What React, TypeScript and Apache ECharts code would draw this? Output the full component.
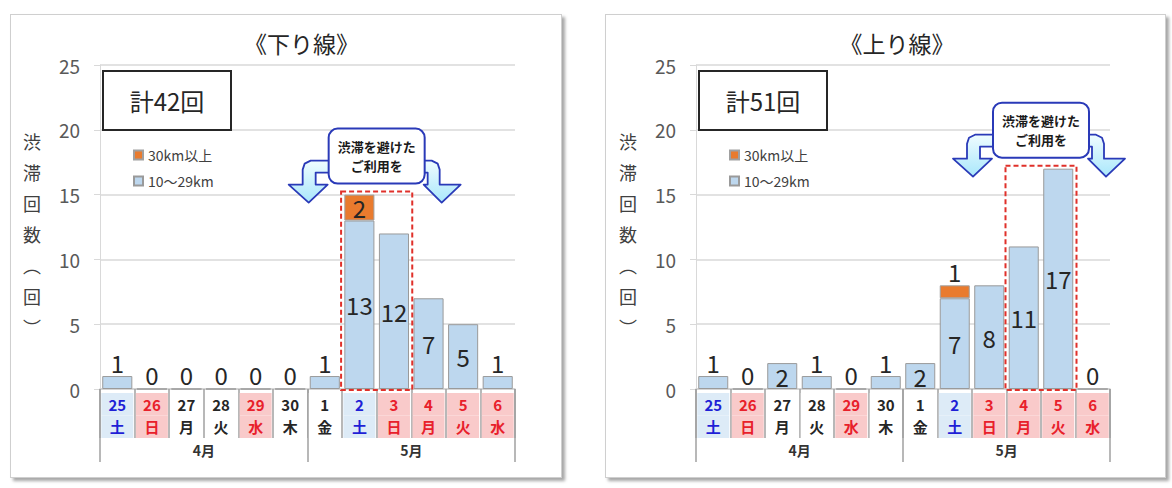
import React, { useEffect, useRef } from 'react';
import * as echarts from 'echarts';

const FONT = '"Noto Sans CJK JP", "Noto Sans", sans-serif';

// x axis: day, weekday, kind of day (sat / holiday / weekday), month groups
const days = ['25', '26', '27', '28', '29', '30', '1', '2', '3', '4', '5', '6'];
const weekdays = ['土', '日', '月', '火', '水', '木', '金', '土', '日', '月', '火', '水'];
const dayKinds = ['sat', 'hol', 'wk', 'wk', 'hol', 'wk', 'wk', 'sat', 'hol', 'hol', 'hol', 'hol'];
const months = ['4月', '5月'];

const yTicks = { min: 0, max: 25, interval: 5 };

// 下り線
const downShort = [1, 0, 0, 0, 0, 0, 1, 13, 12, 7, 5, 1];
const downLong = [0, 0, 0, 0, 0, 0, 0, 2, 0, 0, 0, 0];
const downHighlight = [7, 8];

// 上り線
const upShort = [1, 0, 2, 1, 0, 1, 2, 7, 8, 11, 17, 0];
const upLong = [0, 0, 0, 0, 0, 0, 0, 1, 0, 0, 0, 0];
const upHighlight = [9, 10];

const SHORT_NAME = '10～29km';
const LONG_NAME = '30km以上';

interface JamChartProps {
  title: string;
  shortData: number[];
  longData: number[];
  highlight: number[];
  gridLeft: number;
  gridRight: number;
}

const cell = (bg: string, color: string) => ({
  width: 32,
  height: 22.5,
  lineHeight: 22.5,
  align: 'center',
  verticalAlign: 'middle',
  backgroundColor: bg,
  color,
  fontSize: 15,
  fontWeight: 'bold',
  fontFamily: FONT,
});

const JamChart: React.FC<JamChartProps> = ({ title, shortData, longData, highlight, gridLeft, gridRight }) => {
  const chartRef = useRef<HTMLDivElement>(null);

  useEffect(() => {
    const chart = echarts.init(chartRef.current, null, { renderer: 'svg' });
    const total = shortData.reduce((a, b) => a + b, 0) + longData.reduce((a, b) => a + b, 0);
    const labelFont = { fontSize: 24, color: '#262626', fontFamily: FONT, distance: 2 };

    chart.setOption({
      animation: false,
      textStyle: { fontFamily: FONT },
      grid: { left: gridLeft, right: gridRight, top: 50, bottom: 88 },
      legend: {
        data: [LONG_NAME, SHORT_NAME],
        orient: 'vertical',
        left: gridLeft + 28,
        top: 128,
        itemWidth: 9,
        itemHeight: 9,
        itemGap: 12,
        icon: 'rect',
        selectedMode: false,
        textStyle: { fontSize: 14, color: '#404040', fontFamily: FONT },
      },
      xAxis: [
        {
          type: 'category',
          data: days,
          position: 'bottom',
          axisLine: { lineStyle: { color: '#d0d0d0', width: 1.5 } },
          axisTick: { show: true, interval: 0, length: 49, lineStyle: { color: '#a0a0a0', width: 1.5 } },
          axisLabel: {
            interval: 0,
            margin: 4,
            formatter: (v: string, i: number) => `{${dayKinds[i]}|${v}}\n{${dayKinds[i]}|${weekdays[i]}}`,
            rich: {
              sat: cell('#DDEBF7', '#1f1fd6'),
              hol: cell('#F9CACA', '#e8202a'),
              wk: cell('#ffffff', '#262626'),
            },
          },
        },
        {
          type: 'category',
          data: months,
          position: 'bottom',
          axisLine: { show: false },
          axisTick: { show: true, interval: 0, length: 73, lineStyle: { color: '#a0a0a0', width: 1.5 } },
          axisLabel: { interval: 0, margin: 54, fontSize: 14, fontWeight: 'bold', color: '#333', fontFamily: FONT },
        },
      ],
      yAxis: {
        type: 'value',
        ...yTicks,
        axisLine: { show: true, lineStyle: { color: '#d9d9d9' } },
        axisTick: { show: true, length: 6, lineStyle: { color: '#d9d9d9' } },
        splitLine: { lineStyle: { color: '#d9d9d9', width: 1.5 } },
        axisLabel: { margin: 20, fontSize: 19, color: '#595959', fontFamily: FONT },
      },
      series: [
        {
          name: SHORT_NAME,
          type: 'bar',
          stack: 'jam',
          barWidth: '87%',
          itemStyle: { color: '#BDD7EE', borderColor: '#9a9a9a', borderWidth: 1 },
          label: { show: true, ...labelFont },
          data: shortData.map((v) => ({ value: v, label: { position: v >= 2 ? 'inside' : 'top' } })),
        },
        {
          name: LONG_NAME,
          type: 'bar',
          stack: 'jam',
          barWidth: '87%',
          itemStyle: { color: '#E97B2E', borderColor: '#a0a0a0', borderWidth: 1 },
          label: { show: false, ...labelFont },
          data: longData.map((v) =>
            v > 0 ? { value: v, label: { show: true, position: v >= 2 ? 'inside' : 'top' } } : '-'
          ),
        },
      ],
    });

    // dashed box around the highlighted days, and the callout above it
    const px = (i: number, v: number) => chart.convertToPixel('grid', [i, v]) as number[];
    const band = px(1, 0)[0] - px(0, 0)[0];
    const peak = Math.max(...highlight.map((i) => shortData[i] + longData[i]));
    const rectL = px(highlight[0], 0)[0] - band / 2 - 1;
    const rectR = px(highlight[highlight.length - 1], 0)[0] + band / 2 + 1;
    const rectT = px(highlight[0], peak)[1] - 3;
    const rectB = px(highlight[0], 0)[1] + 1;

    const boxW = 96;
    const boxH = 55;
    const cx = (rectL + rectR) / 2;
    const B = rectT - 8;
    const L = cx - boxW / 2;
    const R = cx + boxW / 2;
    const bandTop = B - 23;
    const bandBot = B - 11;
    const headTop = B + 1;
    const tipY = B + 19;

    const leftArrow = [
      [L + 5, bandTop], [L - 18, bandTop], [L - 24, bandTop + 3], [L - 26, bandTop + 9],
      [L - 26, headTop], [L - 40, headTop], [L - 20, tipY], [L - 1, headTop],
      [L - 13, headTop], [L - 13, bandBot], [L + 5, bandBot],
    ];
    const rightArrow = [
      [R - 5, bandTop], [R + 7, bandTop], [R + 13, bandTop + 3], [R + 15, bandTop + 9],
      [R + 15, headTop], [R + 36, headTop], [R + 17, tipY], [R - 1, headTop],
      [R + 3, headTop], [R + 3, bandBot], [R - 5, bandBot],
    ];
    const arrowStyle = {
      fill: new echarts.graphic.LinearGradient(0, 0, 0, 1, [
        { offset: 0, color: '#effcff' },
        { offset: 1, color: '#a9e7fb' },
      ]),
      stroke: '#2a3ab8',
      lineWidth: 1.8,
      lineJoin: 'round',
    };

    const gridW = chart.getWidth() - gridLeft - gridRight;

    chart.setOption({
      graphic: [
        {
          type: 'text',
          x: gridLeft + gridW / 2 - 6,
          y: 28,
          style: { text: title, fontSize: 23, fill: '#262626', fontFamily: FONT, align: 'center', verticalAlign: 'middle' },
        },
        {
          type: 'text',
          x: gridLeft - 68,
          y: 110,
          style: {
            text: ['渋', '滞', '回', '数', '︵', '回', '︶'].join('\n'),
            fontSize: 18,
            lineHeight: 31,
            fill: '#404040',
            fontFamily: FONT,
            align: 'center',
            verticalAlign: 'top',
          },
        },
        {
          type: 'rect',
          z: 50,
          shape: { x: gridLeft + 3, y: 56, width: 128, height: 59 },
          style: { fill: '#fff', stroke: '#262626', lineWidth: 2 },
        },
        {
          type: 'text',
          z: 51,
          x: gridLeft + 3 + 64,
          y: 56 + 29.5,
          style: { text: `計${total}回`, fontSize: 24, fill: '#262626', fontFamily: FONT, align: 'center', verticalAlign: 'middle' },
        },
        {
          type: 'rect',
          z: 40,
          shape: { x: rectL, y: rectT, width: rectR - rectL, height: rectB - rectT },
          style: { fill: 'transparent', stroke: '#e0302a', lineWidth: 2, lineDash: [5, 3] },
        },
        { type: 'polygon', z: 41, shape: { points: leftArrow }, style: arrowStyle },
        { type: 'polygon', z: 41, shape: { points: rightArrow }, style: arrowStyle },
        {
          type: 'rect',
          z: 42,
          shape: { x: L, y: B - boxH, width: boxW, height: boxH, r: 9 },
          style: { fill: '#fff', stroke: '#2a3ab8', lineWidth: 2 },
        },
        {
          type: 'text',
          z: 43,
          x: cx,
          y: B - boxH / 2,
          style: {
            text: '渋滞を避けた\nご利用を',
            fontSize: 13,
            fontWeight: 'bold',
            lineHeight: 19,
            fill: '#1a1a1a',
            fontFamily: FONT,
            align: 'center',
            verticalAlign: 'middle',
          },
        },
      ],
    });

    return () => {
      chart.dispose();
    };
  }, [title, shortData, longData, highlight, gridLeft, gridRight]);

  return <div ref={chartRef} style={{ width: '100%', height: '100%' }} />;
};

const panelStyle = (left: number, width: number): React.CSSProperties => ({
  position: 'absolute',
  left,
  top: 14,
  width,
  height: 464,
  boxSizing: 'border-box',
  border: '1px solid #cfcfcf',
  boxShadow: '3px 3px 3px rgba(0,0,0,0.35)',
  background: '#fff',
});

export default function App() {
  return (
    <div style={{ position: 'fixed', left: 0, top: 0, width: 1172, height: 488, background: '#fff' }}>
      <div style={panelStyle(10, 552)}>
        <JamChart title="《下り線》" shortData={downShort} longData={downLong} highlight={downHighlight} gridLeft={89} gridRight={46} />
      </div>
      <div style={panelStyle(605, 561)}>
        <JamChart title="《上り線》" shortData={upShort} longData={upLong} highlight={upHighlight} gridLeft={90} gridRight={55} />
      </div>
    </div>
  );
}
